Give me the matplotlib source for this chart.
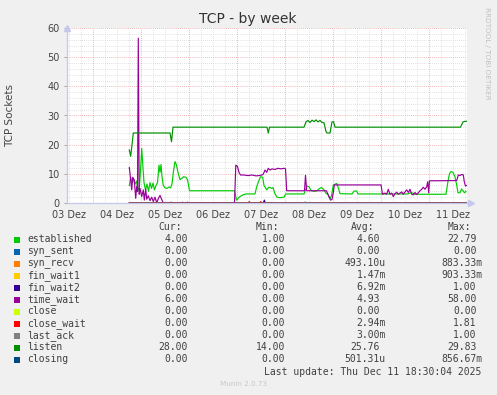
import matplotlib
matplotlib.use("Agg")
import matplotlib.pyplot as plt
from matplotlib.patches import Rectangle

W, H = 497, 395

# ---------------- data (x = hours since 03 Dez 00:00) ----------------
day_labels = ["03 Dez", "04 Dez", "05 Dez", "06 Dez", "07 Dez", "08 Dez", "09 Dez", "10 Dez", "11 Dez"]

listen_x = [42.3, 43.0, 44.3, 62.65, 63.4, 64.15, 111.15, 111.8, 112.4, 129.65, 130.65, 131.65,
            132.65, 133.65, 134.65, 135.65, 136.65, 137.65, 138.65, 139.65, 140.65, 141.15,
            142.65, 143.65, 144.4, 145.15, 207.9, 209.15, 210.15, 210.9]
listen_y = [18.2, 16.0, 24.0, 24.0, 21.0, 26.0, 26.0, 24.0, 26.0, 26.0, 27.8, 28.3,
            27.6, 28.4, 27.9, 28.5, 27.8, 28.3, 27.6, 27.5, 24.5, 24.0,
            24.0, 27.8, 27.9, 26.0, 26.0, 27.8, 28.0, 28.0]

established_x = [42.3, 43.0, 43.65, 44.4, 45.15, 45.9, 46.65, 47.4, 48.15, 48.5, 49.15, 49.65,
                 50.4, 51.15, 51.9, 52.65, 53.4, 54.15, 54.9, 55.65, 56.4, 57.15, 57.65, 58.15,
                 58.65, 59.3, 60.15, 61.15, 62.15, 62.9, 63.65, 64.4, 65.15, 65.9, 66.65, 67.65,
                 68.65, 69.4, 70.65, 71.4, 72.4, 94.9, 95.9, 97.65, 99.15, 100.65, 105.15, 106.0,
                 106.9, 107.9, 109.0, 109.65, 111.0, 111.9, 112.65, 113.5, 114.15, 115.15, 116.15,
                 117.65, 119.65, 120.5, 129.65, 130.4, 131.15, 132.15, 133.15, 134.65, 136.15,
                 137.4, 138.4, 139.65, 140.65, 141.65, 142.65, 143.4, 144.3, 146.0, 146.9, 147.65,
                 153.65, 154.65, 155.9, 156.65, 181.65, 182.65, 184.15, 184.9, 200.65, 201.65,
                 202.4, 203.15, 204.15, 205.15, 205.9, 206.65, 207.65, 208.4, 209.15, 209.9, 210.65]
established_y = [6.0, 8.8, 7.0, 8.0, 6.5, 7.5, 4.0, 6.0, 14.0, 18.7, 12.0, 7.0,
                 4.5, 6.5, 4.0, 7.0, 5.0, 6.8, 4.5, 6.0, 7.0, 13.0, 10.5, 13.2,
                 9.0, 6.0, 5.2, 5.0, 5.5, 5.2, 6.5, 11.0, 14.2, 13.0, 10.5, 8.0,
                 8.5, 9.0, 8.8, 8.0, 4.2, 4.2, 1.0, 2.2, 2.8, 3.1, 3.1, 5.6,
                 7.3, 9.0, 8.8, 6.0, 4.5, 5.3, 5.4, 5.0, 5.3, 3.1, 2.0,
                 1.8, 2.0, 3.1, 3.1, 4.5, 5.8, 5.6, 4.3, 4.0, 4.2,
                 5.0, 5.3, 4.5, 3.3, 3.0, 1.5, 2.5, 6.2, 6.7, 5.0, 3.2,
                 3.1, 4.1, 4.1, 3.1, 3.1, 3.5, 3.4, 3.0, 3.0, 7.5,
                 10.0, 10.8, 10.5, 9.0, 6.5, 3.5, 3.5, 4.8, 4.2, 3.5, 4.0]

time_wait_x = [42.3, 43.0, 43.5, 44.0, 44.8, 45.5, 46.0, 46.4, 46.8, 47.25, 47.65, 48.5,
               49.3, 49.8, 50.5, 51.0, 51.8, 52.65, 53.5, 54.3, 55.15, 56.0, 56.8, 57.65,
               58.5, 59.3, 62.65, 63.15, 63.65, 68.5, 68.8, 69.15, 71.0, 71.3, 71.65, 94.9,
               95.55, 96.4, 97.15, 97.9, 99.65, 101.65, 103.65, 105.65, 107.15, 108.65, 109.3,
               110.15, 111.0, 111.8, 112.65, 113.65, 115.15, 116.65, 118.15, 119.65, 120.4,
               121.0, 129.9, 130.4, 131.0, 140.9, 141.9, 142.9, 143.65, 144.4, 144.8, 168.15,
               168.9, 170.15, 171.0, 171.8, 172.65, 173.5, 174.3, 175.15, 176.0, 176.8, 177.65,
               178.5, 179.3, 180.15, 181.0, 181.8, 182.65, 183.5, 184.3, 185.15, 186.0, 186.8,
               187.65, 188.5, 189.3, 190.15, 191.0, 191.5, 192.0, 192.4, 206.0, 206.8, 207.65,
               208.5, 209.3, 209.8, 210.4, 210.9]
time_wait_y = [12.2, 7.9, 4.5, 8.8, 7.9, 1.6, 5.6, 4.0, 56.5, 3.0, 5.0, 2.2,
               4.5, 1.0, 4.8, 1.3, 2.5, 0.8, 2.0, 0.5, 2.0, 0.1, 1.5, 2.6,
               1.2, 0.0, 0.0, 0.3, 0.0, 0.0, 0.3, 0.0, 0.0, 0.3, 0.0, 0.0,
               13.0, 12.5, 10.5, 9.6, 9.6, 9.4, 9.6, 9.3, 9.4, 9.6, 9.9,
               11.3, 10.5, 11.9, 11.3, 11.7, 11.5, 11.9, 11.7, 11.9, 11.7,
               4.2, 4.2, 9.5, 4.2, 4.2, 2.5, 1.0, 1.2, 4.0, 6.2, 6.2,
               3.0, 3.4, 3.0, 4.7, 3.0, 3.4, 2.2, 3.2, 3.7, 3.0, 3.4,
               3.8, 3.0, 3.8, 4.5, 3.6, 4.7, 3.0, 2.8, 3.6, 2.9, 3.5,
               4.2, 4.7, 5.4, 4.7, 5.6, 7.3, 3.5, 7.6, 7.7, 9.6, 9.4,
               9.8, 9.6, 7.3, 5.8, 6.0]

close_wait_x = [42.3, 101.8, 102.3, 102.8, 107.5, 108.0, 108.5, 210.9]
close_wait_y = [0.0, 0.0, 0.5, 0.0, 0.0, 0.5, 0.0, 0.0]
fin_wait2_x = [42.3, 109.3, 109.8, 110.3, 210.9]
fin_wait2_y = [0.0, 0.0, 1.0, 0.0, 0.0]
last_ack_x = [42.3, 129.8, 130.2, 130.6, 210.9]
last_ack_y = [0.0, 0.0, 0.4, 0.0, 0.0]
zero_x = [42.3, 210.9]
zero_y = [0.0, 0.0]

names = ["established", "syn_sent", "syn_recv", "fin_wait1", "fin_wait2", "time_wait",
         "close", "close_wait", "last_ack", "listen", "closing"]
colors = ["#00CC00", "#0066B3", "#FF8000", "#FFCC00", "#330099", "#990099",
          "#CCFF00", "#FF0000", "#808080", "#008F00", "#00487D"]
cur_vals = ["4.00", "0.00", "0.00", "0.00", "0.00", "6.00", "0.00", "0.00", "0.00", "28.00", "0.00"]
min_vals = ["1.00", "0.00", "0.00", "0.00", "0.00", "0.00", "0.00", "0.00", "0.00", "14.00", "0.00"]
avg_vals = ["4.60", "0.00", "493.10u", "1.47m", "6.92m", "4.93", "0.00", "2.94m", "3.00m", "25.76", "501.31u"]
max_vals = ["22.79", "0.00", "883.33m", "903.33m", "1.00", "58.00", "0.00", "1.81", "1.00", "29.83", "856.67m"]

series = {
    "established": (established_x, established_y),
    "syn_sent": (zero_x, zero_y),
    "syn_recv": (zero_x, zero_y),
    "fin_wait1": (zero_x, zero_y),
    "fin_wait2": (fin_wait2_x, fin_wait2_y),
    "time_wait": (time_wait_x, time_wait_y),
    "close": (zero_x, zero_y),
    "close_wait": (close_wait_x, close_wait_y),
    "last_ack": (last_ack_x, last_ack_y),
    "listen": (listen_x, listen_y),
    "closing": (zero_x, zero_y),
}

# ---------------- figure ----------------
fig = plt.figure(figsize=(W / 100, H / 100), dpi=100, facecolor="#F0F0F0")
ax_l, ax_r, ax_t, ax_b = 66.7, 467.3, 28.0, 203.0
ax = fig.add_axes([ax_l / W, 1 - ax_b / H, (ax_r - ax_l) / W, (ax_b - ax_t) / H])
ax.set_facecolor("white")
ax.set_xlim(11, 211.3)
ax.set_ylim(0, 60)

grid_minor = "#D8D8D8"
grid_major = "#E8A0A0"
for h in range(12, 212, 6):
    if h % 24 == 0:
        continue
    ax.axvline(h, color=grid_minor, lw=0.6, ls=(0, (1, 1.5)), zorder=0)
for v in range(2, 60, 2):
    if v % 10 == 0:
        continue
    ax.axhline(v, color=grid_minor, lw=0.6, ls=(0, (1, 1.5)), zorder=0)
for h in range(24, 212, 24):
    ax.axvline(h, color=grid_major, lw=0.6, ls=(0, (1, 1.5)), zorder=0.5)
for v in range(10, 61, 10):
    ax.axhline(v, color=grid_major, lw=0.6, ls=(0, (1, 1.5)), zorder=0.5)

for name, c in zip(names, colors):
    xs, ys = series[name]
    ax.plot(xs, ys, color=c, lw=0.85, zorder=3)

for s in ["top", "right"]:
    ax.spines[s].set_visible(False)
for s in ["left", "bottom"]:
    ax.spines[s].set_color("#C4C8EC")
    ax.spines[s].set_linewidth(0.9)
    ax.spines[s].set_zorder(2)

ax.set_yticks(range(0, 61, 10))
ax.set_yticklabels([str(v) for v in range(0, 61, 10)])
ax.set_xticks([12 + 24 * i for i in range(len(day_labels))])
ax.set_xticklabels(day_labels)
ax.tick_params(axis="y", length=2, width=0.6, color="#999999", pad=3, labelsize=7, labelcolor="#444444")
ax.tick_params(axis="x", length=0, pad=5, labelsize=7, labelcolor="#444444")

# axis arrows
ax.plot([0], [1.0], marker="^", ms=4, color="#C4C8EC", transform=ax.transAxes, clip_on=False, zorder=4)
ax.plot([1.01], [0], marker=">", ms=4, color="#C4C8EC", transform=ax.transAxes, clip_on=False, zorder=4)

def fx(x):
    return x / W

def fy(y):
    return 1 - y / H

fig.text(fx(248), fy(19), "TCP - by week", ha="center", va="center", fontsize=10, color="#333333")
fig.text(fx(10), fy(115.5), "TCP Sockets", ha="center", va="center", rotation=90, fontsize=7.5, color="#444444")
fig.text(fx(487.5), fy(53.5), "RRDTOOL / TOBI OETIKER", ha="center", va="center", rotation=270,
         fontsize=5.2, color="#C0C0C0")

mono = "DejaVu Sans Mono"
tc = "#404040"
cw = 5.85
col_x = [187.7, 285.0, 380.0, 476.7]
headers = ["Cur:", "Min:", "Avg:", "Max:"]
for hx, ht in zip(col_x, headers):
    fig.text(fx(hx - cw), fy(227.3), ht, ha="right", va="center", family=mono, fontsize=7, color=tc)

row0, dy = 239.5, 12.0
for i, (name, c) in enumerate(zip(names, colors)):
    y = row0 + i * dy
    fig.add_artist(Rectangle((fx(14), fy(y + 3)), 6 / W, 6 / H, transform=fig.transFigure,
                             facecolor=c, edgecolor="none"))
    fig.text(fx(27), fy(y), name, ha="left", va="center", family=mono, fontsize=7, color=tc)
    for cx, vals in zip(col_x, [cur_vals, min_vals, avg_vals, max_vals]):
        v = vals[i]
        xr = cx + cw if v[-1].isalpha() else cx
        fig.text(fx(xr), fy(y), v, ha="right", va="center", family=mono, fontsize=7, color=tc)

fig.text(fx(481.7), fy(371.7), "Last update: Thu Dec 11 18:30:04 2025", ha="right", va="center",
         family=mono, fontsize=7, color=tc)
fig.text(fx(243.5), fy(384), "Munin 2.0.73", ha="center", va="center", fontsize=5.2, color="#C8C8C8")

fig.savefig("out.png", dpi=100, facecolor=fig.get_facecolor())
